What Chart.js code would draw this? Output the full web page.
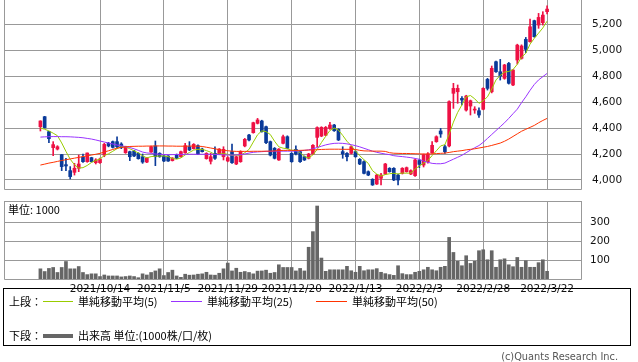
<!DOCTYPE html>
<html><head><meta charset="utf-8">
<script src="https://cdn.jsdelivr.net/npm/chart.js@4.4.1/dist/chart.umd.min.js"></script>
<style>
html,body{margin:0;padding:0;background:#fff;width:638px;height:362px;overflow:hidden}
body{position:relative}
canvas{position:absolute;left:0}
#c1{top:0}
#c2{top:195px}
.t{position:absolute;font-family:"Noto Sans CJK JP","Noto Sans",sans-serif;font-size:11px;color:#000;white-space:nowrap;line-height:1}
#box{position:absolute;left:3px;top:288px;width:628px;height:58px;border:1px solid #000;box-sizing:border-box}
.ln{position:absolute;height:1px}
#copy{position:absolute;right:20px;top:351px;font-family:"DejaVu Sans",sans-serif;font-size:9.8px;color:#555}
</style></head><body>
<canvas id="c1" width="638" height="191"></canvas>
<canvas id="c2" width="638" height="100"></canvas>
<div class="t" style="left:8px;top:204px;">単位: 1000</div>
<div id="box"></div>
<div class="t" style="left:9px;top:296px;">上段：</div>
<div class="ln" style="left:43px;top:301px;width:30px;background:#99cc00"></div>
<div class="t" style="left:78px;top:296px;">単純移動平均(5)</div>
<div class="ln" style="left:171px;top:301px;width:31px;background:#9933ff"></div>
<div class="t" style="left:207px;top:296px;">単純移動平均(25)</div>
<div class="ln" style="left:316px;top:301px;width:31px;background:#ff3300"></div>
<div class="t" style="left:352px;top:296px;">単純移動平均(50)</div>
<div class="t" style="left:9px;top:330px;">下段：</div>
<div class="ln" style="left:43px;top:334px;width:30px;height:4px;background:#666"></div>
<div class="t" style="left:78px;top:330px;">出来高 単位:(1000株/口/枚)</div>
<div id="copy">(c)Quants Research Inc.</div>
<script>
const dates = ['2021/9/24','2021/9/27','2021/9/28','2021/9/29','2021/9/30','2021/10/1','2021/10/4','2021/10/5','2021/10/6','2021/10/7','2021/10/8','2021/10/11','2021/10/12','2021/10/13','2021/10/14','2021/10/15','2021/10/18','2021/10/19','2021/10/20','2021/10/21','2021/10/22','2021/10/25','2021/10/26','2021/10/27','2021/10/28','2021/10/29','2021/11/1','2021/11/2','2021/11/4','2021/11/5','2021/11/8','2021/11/9','2021/11/10','2021/11/11','2021/11/12','2021/11/15','2021/11/16','2021/11/17','2021/11/18','2021/11/19','2021/11/22','2021/11/24','2021/11/25','2021/11/26','2021/11/29','2021/11/30','2021/12/1','2021/12/2','2021/12/3','2021/12/6','2021/12/7','2021/12/8','2021/12/9','2021/12/10','2021/12/13','2021/12/14','2021/12/15','2021/12/16','2021/12/17','2021/12/20','2021/12/21','2021/12/22','2021/12/23','2021/12/24','2021/12/27','2021/12/28','2021/12/29','2021/12/30','2022/1/4','2022/1/5','2022/1/6','2022/1/7','2022/1/11','2022/1/12','2022/1/13','2022/1/14','2022/1/17','2022/1/18','2022/1/19','2022/1/20','2022/1/21','2022/1/24','2022/1/25','2022/1/26','2022/1/27','2022/1/28','2022/1/31','2022/2/1','2022/2/2','2022/2/3','2022/2/4','2022/2/7','2022/2/8','2022/2/9','2022/2/10','2022/2/14','2022/2/15','2022/2/16','2022/2/17','2022/2/18','2022/2/21','2022/2/22','2022/2/24','2022/2/25','2022/2/28','2022/3/1','2022/3/2','2022/3/3','2022/3/4','2022/3/7','2022/3/8','2022/3/9','2022/3/10','2022/3/11','2022/3/14','2022/3/15','2022/3/16','2022/3/17','2022/3/18','2022/3/22'];

const open  = [4410,4487,4372,4249,4238,4195,4118,4072,4059,4090,4177,4141,4172,4133,4133,4192,4282,4295,4295,4277,4210,4218,4223,4205,4179,4138,4215,4262,4205,4185,4185,4149,4195,4179,4210,4256,4241,4264,4238,4164,4144,4205,4200,4179,4146,4218,4123,4141,4262,4346,4364,4436,4454,4410,4295,4244,4154,4282,4333,4205,4236,4218,4179,4167,4200,4328,4338,4344,4397,4423,4390,4218,4205,4205,4218,4159,4141,4064,4005,3969,4013,4046,4090,4090,4038,4051,4064,4046,4033,4150,4115,4140,4210,4295,4377,4256,4262,4667,4679,4628,4538,4569,4538,4533,4544,4774,4679,4910,4833,4782,4897,4731,4923,4936,5082,5064,5226,5192,5210,5295];
const high  = [4456,4490,4375,4295,4264,4197,4167,4103,4128,4192,4200,4208,4175,4164,4169,4282,4290,4300,4333,4287,4260,4222,4228,4210,4200,4172,4260,4300,4210,4190,4188,4172,4200,4222,4282,4295,4280,4270,4245,4210,4205,4256,4242,4256,4180,4277,4185,4225,4320,4352,4445,4474,4460,4415,4300,4250,4242,4346,4340,4210,4262,4222,4185,4205,4272,4410,4410,4412,4444,4428,4395,4256,4210,4262,4225,4165,4148,4070,4010,4044,4051,4128,4095,4095,4045,4095,4100,4078,4160,4160,4200,4210,4295,4340,4397,4269,4610,4744,4731,4641,4652,4615,4564,4556,4710,4782,4877,4915,4928,4890,4905,4850,5045,5040,5097,5238,5230,5282,5295,5341];
const low   = [4377,4400,4287,4187,4231,4072,4072,4008,4038,4064,4136,4136,4138,4123,4128,4179,4255,4246,4249,4241,4205,4149,4180,4160,4128,4133,4212,4110,4175,4141,4143,4146,4164,4175,4205,4226,4238,4195,4215,4160,4123,4159,4195,4154,4140,4128,4118,4136,4255,4300,4360,4431,4368,4280,4185,4162,4150,4278,4240,4136,4192,4136,4150,4162,4195,4256,4333,4340,4390,4374,4303,4167,4146,4200,4175,4118,4046,4033,3958,3965,3962,4041,4060,3995,3962,4046,4060,4041,4028,4095,4100,4130,4205,4290,4328,4205,4255,4551,4590,4577,4530,4500,4513,4482,4540,4692,4670,4828,4769,4775,4738,4725,4892,4930,4980,5060,5098,5167,5192,5277];
const close = [4454,4403,4318,4272,4256,4103,4108,4026,4090,4123,4141,4208,4141,4154,4162,4274,4262,4251,4256,4251,4256,4179,4185,4164,4138,4169,4256,4179,4179,4146,4146,4169,4167,4218,4264,4231,4274,4200,4218,4205,4179,4167,4238,4236,4172,4133,4179,4218,4313,4308,4441,4462,4372,4287,4192,4167,4238,4333,4244,4141,4200,4141,4154,4200,4267,4403,4405,4405,4423,4379,4308,4200,4179,4256,4179,4123,4051,4038,3962,4038,4038,4123,4064,4000,4000,4090,4095,4072,4154,4120,4195,4200,4267,4333,4354,4218,4603,4705,4705,4615,4646,4610,4544,4500,4705,4705,4859,4833,4800,4885,4744,4846,5038,5031,5005,5179,5103,5251,5269,5315];

const ma5  = [4400,4390,4378,4360,4341,4285,4220,4160,4117,4092,4095,4112,4135,4150,4162,4188,4202,4221,4241,4257,4255,4240,4225,4208,4186,4170,4180,4183,4184,4185,4180,4166,4160,4170,4193,4212,4230,4236,4236,4226,4214,4196,4200,4203,4198,4190,4192,4190,4210,4235,4292,4348,4378,4372,4350,4298,4255,4245,4240,4228,4230,4210,4180,4170,4193,4235,4288,4336,4381,4400,4384,4343,4298,4264,4224,4187,4156,4128,4072,4045,4030,4042,4048,4052,4046,4054,4052,4054,4084,4108,4130,4150,4188,4225,4262,4272,4352,4445,4520,4578,4640,4650,4625,4590,4610,4640,4700,4770,4805,4830,4835,4850,4890,4945,4975,5045,5090,5130,5170,5222];
const ma25 = [4330,4332,4333,4334,4334,4333,4333,4332,4330,4328,4325,4320,4315,4308,4300,4292,4285,4277,4269,4263,4257,4250,4240,4228,4215,4208,4205,4200,4198,4196,4195,4195,4196,4197,4198,4198,4198,4198,4198,4198,4198,4197,4195,4193,4192,4192,4193,4195,4200,4207,4213,4216,4218,4220,4221,4221,4222,4222,4222,4222,4222,4224,4228,4232,4240,4250,4260,4270,4277,4282,4283,4282,4278,4272,4264,4255,4244,4233,4222,4213,4206,4200,4195,4187,4183,4180,4176,4172,4166,4159,4145,4136,4128,4125,4125,4130,4145,4160,4175,4190,4210,4230,4248,4265,4290,4320,4350,4380,4410,4440,4474,4510,4545,4595,4640,4690,4735,4770,4795,4820];
const ma50 = [4115,4122,4130,4136,4143,4150,4156,4162,4168,4174,4180,4186,4192,4198,4205,4215,4225,4235,4245,4250,4255,4258,4259,4260,4260,4261,4261,4262,4262,4262,4261,4261,4260,4260,4260,4261,4261,4260,4258,4252,4246,4240,4233,4228,4225,4222,4220,4220,4220,4220,4221,4221,4221,4222,4222,4224,4226,4228,4228,4228,4228,4228,4229,4230,4231,4233,4235,4236,4237,4237,4237,4236,4236,4236,4235,4228,4224,4223,4222,4222,4222,4220,4210,4206,4205,4204,4204,4203,4202,4201,4200,4200,4201,4203,4205,4207,4212,4218,4222,4226,4232,4236,4240,4246,4252,4258,4266,4275,4284,4298,4315,4335,4355,4375,4390,4405,4420,4440,4458,4474];

const volume = [58,44,60,65,39,65,96,58,58,70,39,28,32,32,18,26,21,21,21,16,18,21,18,12,32,26,39,47,58,23,39,51,21,14,30,25,26,30,32,40,26,25,35,58,88,47,61,40,44,39,32,46,47,51,35,39,79,65,65,65,47,60,47,170,251,384,114,45,53,53,53,53,71,48,40,71,48,53,53,59,40,33,28,24,74,33,28,28,40,45,53,66,53,48,66,71,221,143,97,74,126,86,97,152,157,105,152,66,105,110,79,69,117,66,100,66,66,90,105,45];

const priceTicks = [4000,4200,4400,4600,4800,5000,5200];
const volumeTicks = [100,200,300];
const tickLabels = ['2021/10/14','2021/11/5','2021/11/29','2021/12/20','2022/1/13','2022/2/3','2022/2/28','2022/3/22'];

const UP = '#ee1144', DOWN = '#0a3a99', GRID = '#999999';
const X_MIN = -8.55, X_MAX = 127.2;
const AXIS_FONT = {family:'"DejaVu Sans", sans-serif', size:10.5};
const tickIdx = tickLabels.map(l => dates.indexOf(l));
const idx = dates.map((d,i)=>i);

function makeFrame(drawTop){
  return {
    id:'frame',
    afterDraw(chart){
      const {ctx, chartArea:a} = chart;
      ctx.save(); ctx.strokeStyle = GRID; ctx.lineWidth = 1;
      ctx.beginPath();
      const l=a.left+0.5, r=a.right-0.5, t=a.top+0.5, b=a.bottom-0.5;
      ctx.moveTo(l,a.top); ctx.lineTo(l,b); ctx.lineTo(r,b); ctx.lineTo(r,a.top);
      if(drawTop){ ctx.moveTo(l,t); ctx.lineTo(r,t); }
      ctx.stroke();
      ctx.restore();
    }
  };
}
function noPad(s){ s.paddingTop=0; s.paddingBottom=0; s.paddingLeft=0; s.paddingRight=0; }
function fixY(s){ s.width = 56; noPad(s); }
function xAxis(showLabels){
  return {
    type:'linear', min:X_MIN, max:X_MAX, offset:false,
    afterBuildTicks: s => { s.ticks = tickIdx.map(v=>({value:v})); },
    afterFit: s => { s.height = showLabels ? 15 : 0; noPad(s); },
    grid:{color:GRID, drawTicks:false, lineWidth:1, offset:false},
    border:{display:false},
    ticks:{display:showLabels, padding:3, maxRotation:0, autoSkip:false,
      font:AXIS_FONT, color:'#111',
      callback:(v)=>{ const k = tickIdx.indexOf(v); return k>=0 ? tickLabels[k] : ''; }}
  };
}
const candleColors = close.map((c,i)=> c>=open[i] ? UP : DOWN);

new Chart(document.getElementById('c1'), {
  type:'bar',
  data:{ datasets:[
    {type:'line', data: idx.map(i=>({x:i,y:ma50[i]})), borderColor:'#ff3300', borderWidth:1, pointRadius:0, order:1},
    {type:'line', data: idx.map(i=>({x:i,y:ma25[i]})), borderColor:'#9933ff', borderWidth:1, pointRadius:0, order:1},
    {type:'line', data: idx.map(i=>({x:i,y:ma5[i]})), borderColor:'#99cc00', borderWidth:1, pointRadius:0, order:1},
    {data: idx.map(i=>({x:i,y:[low[i],high[i]]})), backgroundColor:candleColors, barThickness:1, grouped:false, order:3},
    {data: idx.map(i=>({x:i,y:[open[i],close[i]]})), backgroundColor:candleColors, barThickness:3, minBarLength:1, grouped:false, order:2}
  ]},
  options:{
    responsive:false, animation:false, devicePixelRatio:1,
    layout:{padding:{left:4, top:0, right:0, bottom:1}},
    plugins:{legend:{display:false}, tooltip:{enabled:false}},
    scales:{
      x: xAxis(false),
      y:{position:'right', min:3923, max:5385,
        afterBuildTicks: s => { s.ticks = priceTicks.map(v=>({value:v})); },
        afterFit: fixY,
        grid:{color:GRID, drawTicks:false}, border:{display:false},
        ticks:{padding:10, color:'#111', font:AXIS_FONT,
          callback:v=>v.toLocaleString('en-US')}}
    }
  },
  plugins:[makeFrame(false)]
});

new Chart(document.getElementById('c2'), {
  type:'bar',
  data:{ datasets:[
    {data: idx.map(i=>({x:i,y:volume[i]})), backgroundColor:'#666666', barThickness:3}
  ]},
  options:{
    responsive:false, animation:false, devicePixelRatio:1,
    layout:{padding:{left:4, top:6, right:0, bottom:0}},
    plugins:{legend:{display:false}, tooltip:{enabled:false}},
    scales:{
      x: xAxis(true),
      y:{position:'right', min:0, max:410,
        afterBuildTicks: s => { s.ticks = volumeTicks.map(v=>({value:v})); },
        afterFit: fixY,
        grid:{color:GRID, drawTicks:false}, border:{display:false},
        ticks:{padding:8, color:'#111', font:AXIS_FONT}}
    }
  },
  plugins:[makeFrame(true)]
});
</script>
</body></html>
